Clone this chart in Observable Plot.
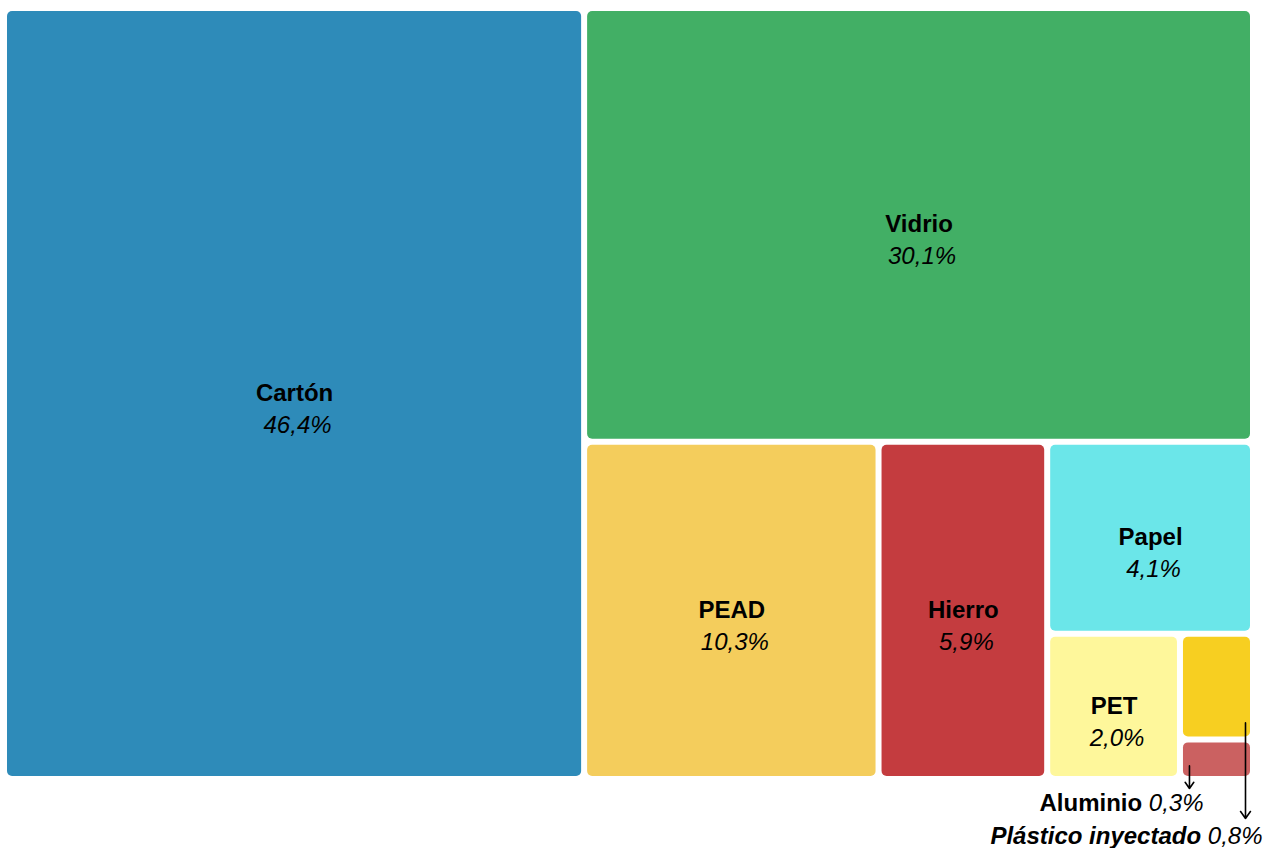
<!DOCTYPE html>
<html>
<head>
<meta charset="utf-8">
<script src="https://cdn.jsdelivr.net/npm/d3@7"></script>
<script src="https://cdn.jsdelivr.net/npm/@observablehq/plot@0.6"></script>
<style>
  html, body { margin: 0; padding: 0; background: #fff; }
  #chart { width: 1272px; height: 848px; }
</style>
</head>
<body>
<div id="chart"></div>
<script>
// ---- Data ----
const materiales = ["Cartón", "Vidrio", "PEAD", "Hierro", "Papel", "PET", "Plástico inyectado", "Aluminio"];
const porcentajes = [46.4, 30.1, 10.3, 5.9, 4.1, 2.0, 0.8, 0.3];
const colores = ["#2e8bb9", "#42af65", "#f4cd5c", "#c43c3f", "#6be6e9", "#fef79b", "#f7cf21", "#cb6161"];

// ---- Layout (d3 treemap) ----
const W = 1243, H = 765;
const root = d3.hierarchy({children: materiales.map((m, i) => ({name: m, value: porcentajes[i], color: colores[i]}))})
  .sum(d => d.value || 0);
d3.treemap().tile(d3.treemapSquarify.ratio(1)).size([W, H]).paddingInner(6)(root);
const leaves = root.leaves().map(l => ({
  name: l.data.name, value: l.data.value, color: l.data.color,
  x0: l.x0, x1: l.x1, y0: l.y0, y1: l.y1,
  cx: (l.x0 + l.x1) / 2, cy: (l.y0 + l.y1) / 2
}));
const fmt = v => v.toFixed(1).replace(".", ",") + "%";
const inside = leaves.filter(d => d.value >= 1);
const alu = leaves.find(d => d.name === "Aluminio");
const pla = leaves.find(d => d.name === "Plástico inyectado");

const FONT = "'Liberation Sans', Arial, sans-serif";
const FS = 24;
const canvas = document.createElement("canvas");
const ctx = canvas.getContext("2d");
function tw(text, font) { ctx.font = font; return ctx.measureText(text).width; }

// outside labels: anchored below the small rects (text end position)
const outLabels = [
  {node: alu, ex: alu.x1 - 47, ey: alu.y1 + 27, nameItalic: false},
  {node: pla, ex: alu.x1 + 12, ey: alu.y1 + 60, nameItalic: true}
].map(o => {
  const val = fmt(o.node.value);
  const vw = tw(val, `italic ${FS}px ${FONT}`) + tw(" ", `${FS}px ${FONT}`);
  return {ex: o.ex, nx: o.ex - vw, ey: o.ey, name: o.node.name, val, nameItalic: o.nameItalic};
});

const arrows = [
  {x1: alu.x0 + 6, y1: alu.y0 + 23, x2: alu.x0 + 6, y2: alu.y1 + 12},
  {x1: pla.x1 - 5, y1: pla.y1 - 14, x2: pla.x1 - 5, y2: alu.y1 + 42}
];

const chart = Plot.plot({
  width: 1272,
  height: 848,
  margin: 0,
  style: {fontFamily: FONT, background: "#fff", overflow: "visible"},
  x: {domain: [0, W], range: [7, 1250], axis: null},
  y: {domain: [0, H], range: [11, 776], axis: null},
  marks: [
    Plot.rect(leaves, {x1: "x0", x2: "x1", y1: "y0", y2: "y1", fill: d => d.color, rx: 5, ry: 5}),
    Plot.text(inside, {x: "cx", y: "cy", text: "name", fontSize: FS, fontWeight: "bold", fill: "#000", dy: -1}),
    Plot.text(inside, {x: "cx", y: "cy", text: d => fmt(d.value), fontSize: FS, fontStyle: "italic", fill: "#000", dy: 31, dx: 3}),
    Plot.arrow(arrows, {x1: "x1", y1: "y1", x2: "x2", y2: "y2", stroke: "#000", strokeWidth: 1.6, headLength: 8, headAngle: 70}),
    Plot.text(outLabels, {x: "ex", y: "ey", text: "val", fontSize: FS, fontStyle: "italic", textAnchor: "end", fill: "#000"}),
    Plot.text(outLabels.filter(d => !d.nameItalic), {x: "nx", y: "ey", text: "name", fontSize: FS, fontWeight: "bold", textAnchor: "end", fill: "#000"}),
    Plot.text(outLabels.filter(d => d.nameItalic), {x: "nx", y: "ey", text: "name", fontSize: FS, fontWeight: "bold", fontStyle: "italic", textAnchor: "end", fill: "#000"})
  ]
});
document.getElementById("chart").appendChild(chart);
</script>
</body>
</html>
